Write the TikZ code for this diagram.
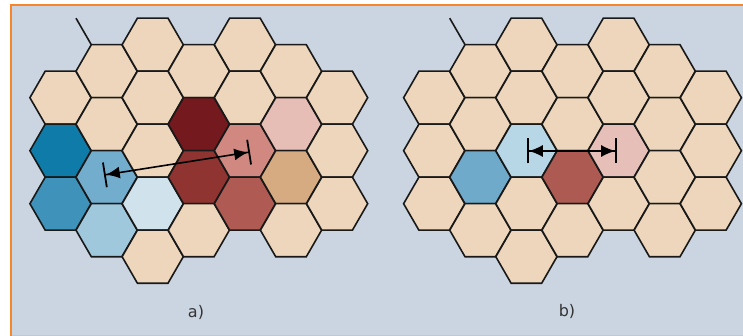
\documentclass[tikz,border=0pt]{standalone}
\usepackage{fontspec}
\setmainfont{DejaVu Sans}
\usetikzlibrary{shapes.geometric,arrows.meta}
\definecolor{bg}{HTML}{CBD5E1}
\definecolor{frame}{HTML}{F7852A}
\definecolor{bline}{HTML}{D2C3C3}
\definecolor{beige}{HTML}{EDD6BB}
\definecolor{dblue}{HTML}{0E7BA8}
\definecolor{mblue}{HTML}{3F92B9}
\definecolor{blueb}{HTML}{73ADCE}
\definecolor{lblue}{HTML}{A0C8DD}
\definecolor{vlblue}{HTML}{D0E2EC}
\definecolor{dred}{HTML}{741A1E}
\definecolor{red}{HTML}{8F3431}
\definecolor{salmon}{HTML}{D08880}
\definecolor{mred}{HTML}{AF5B53}
\definecolor{pink}{HTML}{E6BEB6}
\definecolor{tan}{HTML}{D6AB81}
\definecolor{bblue}{HTML}{70AACB}
\definecolor{blblue}{HTML}{B8D7E6}
\definecolor{bred}{HTML}{AD5A52}
\definecolor{bpink}{HTML}{E6BFB8}
\begin{document}
\begin{tikzpicture}[x=1pt,y=-1pt,
  hexa/.style={regular polygon, regular polygon sides=6, minimum size=61.2pt,
    inner sep=0pt, outer sep=0pt, draw=black!90, line width=1.6pt, fill=beige},
  dim/.style={line width=1.6pt, draw=black,
    arrows={Bar[width=25pt,line width=1.8pt]Latex[length=14pt,width=12pt]-Latex[length=14pt,width=12pt]Bar[width=25pt,line width=1.8pt]}},
  lbl/.style={font=\fontsize{16}{19}\selectfont, text=black!80}]
\useasboundingbox (0,0) rectangle (743,336);
\fill[white] (0,0) rectangle (743,336);
\fill[bg] (10,4) rectangle (743,336);
\draw[bline, line width=1pt] (12,335.5) -- (743,335.5);
\draw[frame, line width=2pt] (11,336) -- (11,5) -- (743,5);
% panel a
\foreach \c/\k/\col in {0/2/beige,0/4/dblue,0/6/mblue,
  1/1/beige,1/3/beige,1/5/blueb,1/7/lblue,
  2/0/beige,2/2/beige,2/4/beige,2/6/vlblue,2/8/beige,
  3/1/beige,3/3/dred,3/5/red,3/7/beige,
  4/0/beige,4/2/beige,4/4/salmon,4/6/mred,
  5/1/beige,5/3/pink,5/5/tan,5/7/beige,
  6/2/beige,6/4/beige,6/6/beige}
  \node[hexa, fill=\col] (a\c-\k) at ({60.5+46.1*\c},{44.7+26.5*\k}) {};
% panel b
\foreach \c/\k/\col in {0/2/beige,0/4/beige,0/6/beige,
  1/1/beige,1/3/beige,1/5/bblue,1/7/beige,
  2/0/beige,2/2/beige,2/4/blblue,2/6/beige,2/8/beige,
  3/1/beige,3/3/beige,3/5/bred,3/7/beige,
  4/0/beige,4/2/beige,4/4/bpink,4/6/beige,
  5/1/beige,5/3/beige,5/5/beige,5/7/beige,
  6/2/beige,6/4/beige,6/6/beige}
  \node[hexa, fill=\col] (b\c-\k) at ({434.2+46.1*\c},{44.7+26.5*\k}) {};
% stubs
\coordinate (sa) at (76,18.2);
\coordinate (sb) at (449.7,18.2);
\draw[line width=1.6pt, black!90] (sa) -- (a1-1.120);
\draw[line width=1.6pt, black!90] (sb) -- (b1-1.120);
% dimension arrows
\coordinate (pa1) at (104,175);
\coordinate (pa2) at (250,152);
\draw[dim] (pa1) -- (pa2);
\coordinate (pb1) at (527,151);
\coordinate (pb2) at (617,151);
\draw[dim] (pb1) -- (pb2);
% labels
\node[lbl] (la) at (196,312) {a)};
\node[lbl] (lb) at (567,311) {b)};
\end{tikzpicture}
\end{document}
